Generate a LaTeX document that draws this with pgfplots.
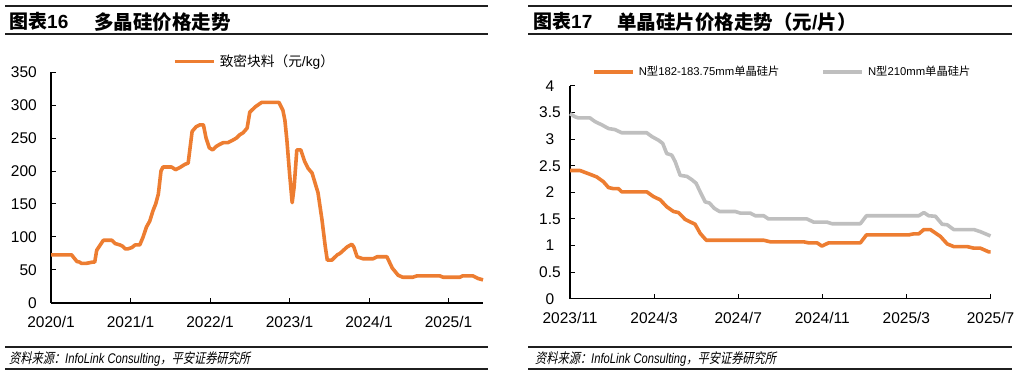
\documentclass[border=0pt]{standalone}
\usepackage{fontspec}
\usepackage{pgfplots}
\pgfplotsset{compat=1.18}
\setmainfont{Liberation Sans}
\newfontfamily\cjk{Noto Sans CJK SC}
\newfontfamily\cjkft{Noto Sans CJK SC}[FakeSlant=0.2,FakeStretch=0.8]
\newfontfamily\latft{Liberation Sans}[FakeStretch=0.8]
\definecolor{org}{HTML}{ED7D31}
\definecolor{gry}{HTML}{BFBFBF}
\definecolor{rulec}{HTML}{1F1F1F}
\newcommand\tickfont{\fontsize{15.5bp}{18bp}\selectfont}
\newcommand\titlefont{\fontsize{19bp}{21bp}\selectfont\bfseries}
\newcommand\footfont{\fontsize{14bp}{16bp}\selectfont}

\begin{document}
\begin{tikzpicture}
\path[use as bounding box] (0,0) rectangle (1023bp,376bp);
% rules
\draw[rulec, line width=2bp] (5bp,370bp) -- (488bp,370bp);
\draw[rulec, line width=2bp] (5bp,342bp) -- (488bp,342bp);
\draw[rulec, line width=2bp] (528bp,370bp) -- (1012bp,370bp);
\draw[rulec, line width=2bp] (528bp,342bp) -- (1012bp,342bp);
\draw[rulec, line width=2bp] (5bp,29bp) -- (488bp,29bp);
\draw[rulec, line width=2bp] (5bp,6.5bp) -- (488bp,6.5bp);
\draw[rulec, line width=2bp] (528bp,29bp) -- (1012bp,29bp);
\draw[rulec, line width=2bp] (528bp,6.5bp) -- (1012bp,6.5bp);
% titles
\node[anchor=west, inner sep=0pt] at (9bp,354.3bp) {\titlefont{\cjk 图表}16};
\node[anchor=west, inner sep=0pt] at (94bp,354.3bp) {\titlefont\fontsize{19.5bp}{21bp}\selectfont\cjk 多晶硅价格走势};
\node[anchor=west, inner sep=0pt] at (533bp,354.3bp) {\titlefont{\cjk 图表}17};
\node[anchor=west, inner sep=0pt] at (617bp,354.3bp) {\titlefont\fontsize{19.5bp}{21bp}\selectfont{\cjk 单晶硅片价格走势（元}/{\cjk 片）}};
% footers
\node[anchor=west, inner sep=0pt] at (9bp,17bp) {\footfont{\cjkft 资料来源：}{\latft\itshape InfoLink Consulting}{\cjkft ，平安证券研究所}};
\node[anchor=west, inner sep=0pt] at (535bp,17bp) {\footfont{\cjkft 资料来源：}{\latft\itshape InfoLink Consulting}{\cjkft ，平安证券研究所}};

% left chart
\begin{axis}[
  at={(51bp,73bp)}, anchor=south west, scale only axis,
  width=432bp, height=231bp,
  xmin=0, xmax=65.2, ymin=0, ymax=350,
  axis x line*=bottom, axis y line*=left,
  axis line style={-, black, line width=1.2bp},
  xtick={0,12,24,36,48,60},
  xticklabels={2020/1,2021/1,2022/1,2023/1,2024/1,2025/1},
  ytick={0,50,100,150,200,250,300,350},
  tick align=inside, major tick length=5bp,
  tick style={black, line width=1bp},
  xticklabel style={font=\tickfont, inner sep=0pt, anchor=north, yshift=-13.5bp},
  yticklabel style={font=\tickfont, inner sep=0pt, anchor=east, xshift=-14bp},
  /pgf/number format/assume math mode=true,
  clip=false,
  legend style={at={(0.2824,1.0446)}, anchor=west, draw=none, fill=none,
    inner sep=0pt, font=\fontsize{13.7bp}{15bp}\selectfont,
    nodes={inner sep=0pt},
    /tikz/every odd column/.append style={column sep=4bp}},
  legend cell align=left,
  legend image code/.code={\draw[#1] (0bp,0bp) -- (39bp,0bp);},
]
\addplot[org, line width=3.6bp, line join=round] coordinates {
(0,73) (3.1,73) (3.5,68) (3.9,63) (4.3,62) (4.6,60) (5.3,60) (5.8,61) (6.3,62) (6.6,62)
(6.9,80) (7.3,86) (7.9,95) (9.2,95) (9.7,90) (10.4,88) (10.8,86) (11.2,82) (11.6,82)
(12.2,84) (12.7,88) (13.4,88) (13.9,100) (14.4,115) (14.9,124) (15.4,140) (15.8,150)
(16.2,165) (16.6,200) (16.9,206) (18.2,206) (18.8,202) (19.4,205) (20.2,210) (20.7,212)
(21.3,260) (21.9,267) (22.5,270) (23.0,270) (23.4,250) (23.9,235) (24.4,232) (24.9,237)
(25.4,240) (26,243) (26.7,243) (27.3,246) (28,250) (28.5,255) (29.0,258) (29.6,265)
(30.0,289) (30.8,297) (31.8,304) (34.4,304) (35,292) (35.3,277) (35.6,247) (36.0,197)
(36.4,152) (36.7,176) (37.1,232) (37.7,232) (38.3,214) (38.8,204) (39.4,197) (40.3,167)
(40.9,126) (41.4,85) (41.7,65) (42.4,65) (43.2,73) (43.6,75) (44.7,85) (45.4,89)
(45.7,85) (46.2,70) (47.1,67) (48.6,67) (49.2,70) (50.7,70) (51.5,53) (52.4,42)
(53.1,39) (54.6,39) (55.2,41) (58.7,41) (59.2,39) (61.7,39) (62.1,41) (63.7,41)
(64.5,37) (65.2,35)
};
\addlegendentry{{\cjk 致密块料（元}/kg{\cjk ）}}
\end{axis}

% right chart
\begin{axis}[
  at={(570bp,77.3bp)}, anchor=south west, scale only axis,
  width=420.5bp, height=212.7bp,
  xmin=0, xmax=20, ymin=0, ymax=4,
  axis x line*=bottom, axis y line*=left,
  axis line style={-, black, line width=1.2bp},
  xtick={0,4,8,12,16,20},
  xticklabels={2023/11,2024/3,2024/7,2024/11,2025/3,2025/7},
  ytick={0,0.5,1,1.5,2,2.5,3,3.5,4},
  yticklabels={0,0.5,1,1.5,2,2.5,3,3.5,4},
  tick align=inside, major tick length=5bp,
  tick style={black, line width=1bp},
  xticklabel style={font=\tickfont, inner sep=0pt, anchor=north, yshift=-13bp},
  yticklabel style={font=\tickfont, inner sep=0pt, anchor=center, xshift=-20bp},
  clip=false,
  legend columns=2,
  legend style={at={(0.0523,1.0672)}, anchor=west, draw=none, fill=none,
    inner sep=0pt, font=\fontsize{11.3bp}{13bp}\selectfont,
    nodes={inner sep=0pt},
    /tikz/every odd column/.append style={column sep=4bp},
    /tikz/every even column/.append style={column sep=42bp}},
  legend cell align=left,
  legend image code/.code={\draw[#1] (0bp,0bp) -- (39bp,0bp);},
]
\addplot[org, line width=3.6bp, line join=round] coordinates {
(0,2.41) (0.48,2.41) (0.95,2.34) (1.27,2.29) (1.59,2.20) (1.83,2.09) (2.06,2.07) (2.3,2.07)
(2.46,2.01) (3.65,2.01) (3.97,1.92) (4.29,1.86) (4.6,1.73) (4.92,1.64) (5.16,1.62)
(5.48,1.49) (5.95,1.40) (6.19,1.23) (6.48,1.10) (9.21,1.10) (9.52,1.07) (11.11,1.07)
(11.35,1.05) (11.75,1.05) (11.98,0.99) (12.3,1.05) (13.81,1.05) (14.1,1.20) (16.11,1.20)
(16.35,1.22) (16.59,1.22) (16.83,1.30) (17.14,1.30) (17.62,1.17) (17.94,1.03) (18.25,0.98)
(18.89,0.98) (19.21,0.95) (19.52,0.95) (19.92,0.88) (20,0.88)
};
\addlegendentry{N{\cjk 型}182-183.75mm{\cjk 单晶硅片}}
\addplot[gry, line width=3.6bp, line join=round] coordinates {
(0,3.48) (0.24,3.42) (0.40,3.40) (0.95,3.40) (1.19,3.33) (1.51,3.27) (1.83,3.20) (2.14,3.18)
(2.46,3.12) (3.65,3.12) (3.89,3.05) (4.21,2.98) (4.41,2.92) (4.60,2.73) (4.84,2.70)
(5.0,2.58) (5.24,2.32) (5.56,2.30) (5.79,2.24) (6.0,2.17) (6.19,2.01) (6.43,1.82)
(6.63,1.80) (6.86,1.70) (7.11,1.64) (7.86,1.64) (8.10,1.61) (8.57,1.61) (8.81,1.56)
(9.21,1.56) (9.44,1.50) (11.27,1.50) (11.59,1.44) (12.22,1.44) (12.46,1.41) (13.81,1.41)
(14.1,1.56) (16.59,1.56) (16.83,1.62) (17.06,1.56) (17.38,1.55) (17.7,1.40) (17.94,1.39)
(18.25,1.30) (19.21,1.30) (19.52,1.26) (20,1.18)
};
\addlegendentry{N{\cjk 型}210mm{\cjk 单晶硅片}}
\end{axis}
\end{tikzpicture}
\end{document}
